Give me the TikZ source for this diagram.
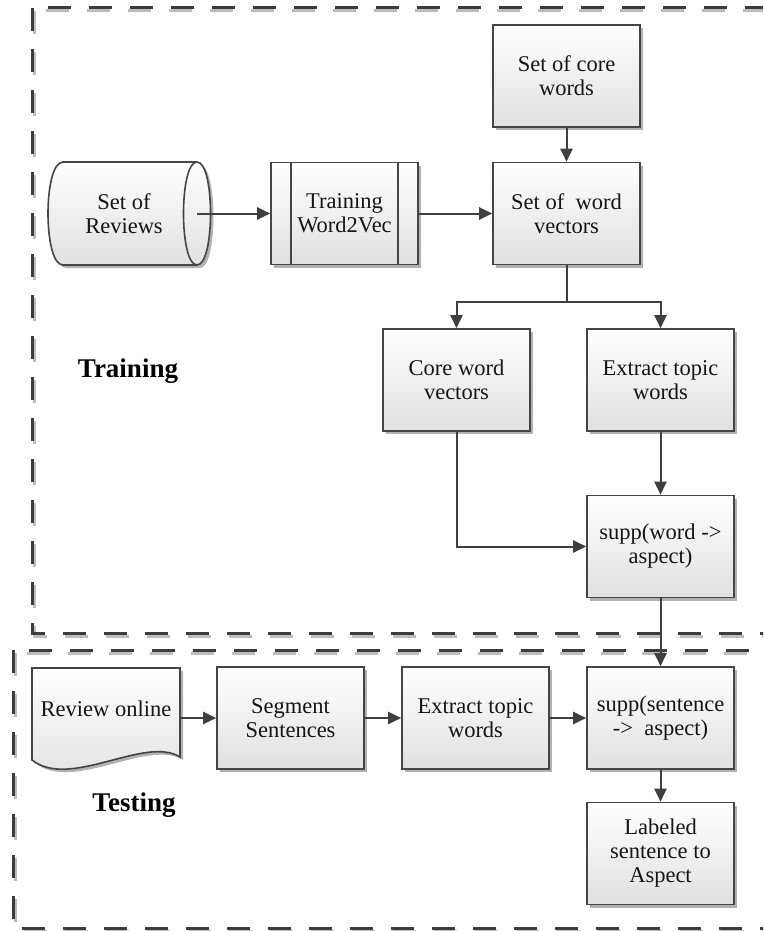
\documentclass[tikz,border=0pt]{standalone}
\usepackage{fontspec}
\setmainfont{Liberation Serif}
\usetikzlibrary{arrows.meta,shadows,calc}
\definecolor{linec}{HTML}{3F3F3F}
\definecolor{boxline}{HTML}{454545}
\definecolor{txt}{HTML}{151515}
\definecolor{fr}{HTML}{3C3C3C}
\definecolor{frsh}{HTML}{BDBDBD}
\tikzset{
  boxshadow/.style={drop shadow={shadow xshift=3pt, shadow yshift=-3pt, fill=black!55, opacity=0.55}},
  procbox/.style={draw=boxline, line width=1.6pt, top color=white, bottom color=black!12,
    minimum width=147pt, minimum height=102pt, align=center, inner sep=2pt, text=txt,
    font=\fontsize{22.5}{24}\selectfont, boxshadow},
  shapefill/.style={draw=boxline, line width=1.6pt, top color=white, bottom color=black!12, boxshadow},
  txtonly/.style={align=center, text=txt, font=\fontsize{22.5}{24}\selectfont, inner sep=0pt},
  arr/.style={draw=linec, line width=2pt, -{Triangle[length=13pt,width=12pt]}},
  frameline/.style={draw=fr, line width=3pt, dash pattern=on 23pt off 18pt},
  frameshadow/.style={draw=frsh, line width=3pt, dash pattern=on 23pt off 18pt},
  biglabel/.style={font=\fontsize{27}{30}\selectfont\bfseries, text=black, inner sep=0pt}
}
\begin{document}
\begin{tikzpicture}[x=1pt,y=-1pt]
\clip (0,0) rectangle (763,931);
\fill[white] (0,0) rectangle (763,931);

% frames
\draw[frameshadow] (34,11) rectangle (800,636);
\draw[frameline] (32,8) rectangle (800,633);
\draw[frameshadow] (15,653) rectangle (800,931);
\draw[frameline] (13,650) rectangle (800,928);

\node[biglabel] (trainlbl) at (128,371) {Training};
\node[biglabel] (testlbl) at (134,805) {Testing};

% Set of Reviews cylinder
\path[shapefill] (63,162) -- (197,162) .. controls (215,162) and (215,265) .. (197,265)
  -- (63,265) .. controls (43,265) and (43,162) .. (63,162) -- cycle;
\draw[draw=boxline, line width=1.6pt] (197,162) .. controls (179,162) and (179,265) .. (197,265);
\node[txtonly] (reviews) at (124,213.5) {Set of\\Reviews};
\coordinate (revR) at (197,213.5);

% nodes
\node[procbox] (core) at (566.5,76) {Set of core\\words};
\node[procbox] (w2v) at (344.5,213.5) {Training\\Word2Vec};
\draw[draw=boxline, line width=1.6pt] ($(w2v.north west)+(21,0)$) -- ($(w2v.south west)+(21,0)$);
\draw[draw=boxline, line width=1.6pt] ($(w2v.north east)+(-21,0)$) -- ($(w2v.south east)+(-21,0)$);
\node[procbox] (wordvec) at (566.5,213.5) {Set of\ \ word\\vectors};
\node[procbox] (corevec) at (456.5,380) {Core word\\vectors};
\node[procbox] (extr1) at (660.5,380) {Extract topic\\words};
\node[procbox] (suppw) at (660.5,546.5) {supp(word ->\\aspect)};

% Review online document
\path[shapefill] (32,668) -- (180,668) -- (180,757)
  .. controls (145,735) and (70,790) .. (32,760) -- cycle;
\node[txtonly] (online) at (106,709) {Review online};
\coordinate (docR) at (180,718);

\node[procbox] (seg) at (290.5,718) {Segment\\Sentences};
\node[procbox] (extr2) at (475.5,718) {Extract topic\\words};
\node[procbox] (supps) at (660.5,718) {supp(sentence\\->~ aspect)};
\node[procbox] (labeled) at (660.5,853.5) {Labeled\\sentence to\\Aspect};

% connectors
\draw[arr] (core) -- (wordvec);
\draw[arr] (revR) -- (w2v);
\draw[arr] (w2v) -- (wordvec);
\coordinate (split) at (566.5,302);
\draw[draw=linec, line width=2pt] (wordvec.south) -- (split);
\draw[arr] (split) -| (corevec.north);
\draw[arr] (split) -| (extr1.north);
\draw[arr] (corevec.south) |- (suppw.west);
\draw[arr] (extr1) -- (suppw);
\draw[arr] (suppw) -- (supps);
\draw[arr] (docR) -- (seg);
\draw[arr] (seg) -- (extr2);
\draw[arr] (extr2) -- (supps);
\draw[arr] (supps) -- (labeled);
\end{tikzpicture}
\end{document}
